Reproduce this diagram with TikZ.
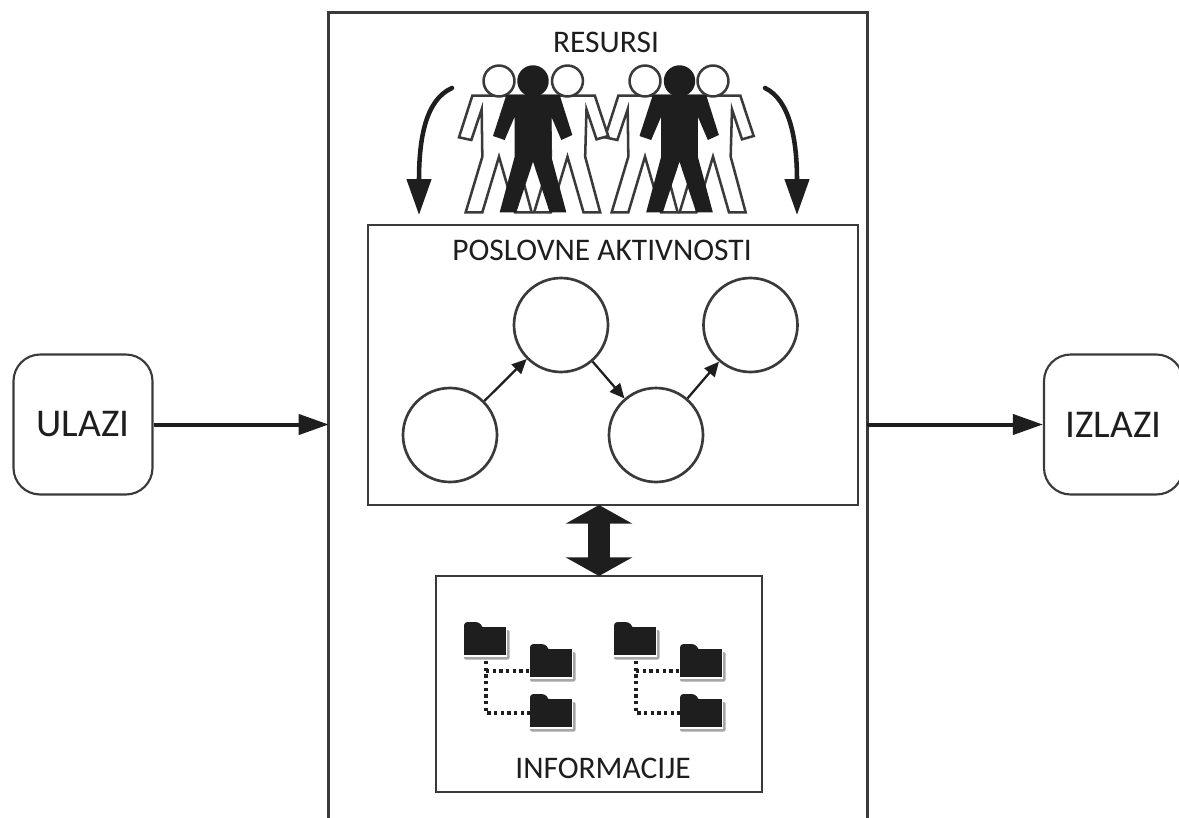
\documentclass[tikz,border=0pt]{standalone}
\usepackage{fontspec}
\setmainfont{Carlito}
\usetikzlibrary{arrows.meta,calc}
\definecolor{ink}{HTML}{1E1E1E}
\definecolor{edge}{HTML}{3A3A3A}
\newcommand{\personshape}{(-80,137) -- (-120,262) -- (-83,270) -- (-52,178) -- (-50,320) -- (-100,487) -- (-50,487) -- (0,320) -- (48,487) -- (98,487) -- (53,320) -- (57,178) -- (87,268) -- (122,258) -- (82,137) -- cycle}
\newcommand{\blackshape}{(-80,135) -- (-120,258) -- (-85,270) -- (-55,200) -- (-55,320) -- (-100,487) -- (-50,487) -- (0,335) -- (50,487) -- (100,487) -- (55,320) -- (55,200) -- (85,270) -- (118,255) -- (80,135) -- cycle}
\newcommand{\whiteperson}[1]{\begin{scope}[shift={(#1,50)},x=0.25pt,y=-0.25pt]
\draw[edge,line width=1.9pt,line join=miter,fill=white] \personshape;
\draw[edge,line width=1.9pt,fill=white] (0,93) circle (11.6pt);
\end{scope}}
\newcommand{\blackperson}[1]{\begin{scope}[shift={(#1,50)},x=0.25pt,y=-0.25pt]
\fill[ink] \blackshape;
\fill[ink] (0,93) circle (11.8pt);
\fill[ink] (-15,120) rectangle (15,140);
\end{scope}}
\newcommand{\folder}[3]{%
\fill[gray!70,rounded corners=1pt] (#2+0,#3+8) rectangle (#2+45.5,#3+37.5);
\fill[white] (#2+0,#3+5) rectangle (#2+43,#3+35);
\node[folderbody] (#1) at (#2+21,#3+19) {};
\fill[ink,rounded corners=2.5pt] (#2,#3+8) -- (#2,#3) -- (#2+15,#3) -- (#2+19,#3+5) -- (#2+19,#3+8) -- cycle;
}
\tikzset{
  x=0.75pt,y=-0.75pt,
  frame/.style n args={2}{draw=edge,line width=1.9pt,fill=white,minimum width={#1*0.75pt},minimum height={#2*0.75pt},inner sep=0pt},
  endbox/.style={draw=edge,line width=1.6pt,fill=white,rounded corners=20pt,minimum width={139*0.75pt},minimum height={140*0.75pt},inner sep=0pt,font=\fontsize{29.5}{34}\selectfont,text=ink},
  ghost/.style n args={2}{minimum width={#1*0.75pt},minimum height={#2*0.75pt},inner sep=0pt},
  act/.style={draw=edge,line width=2pt,fill=white,circle,minimum size={94*0.75pt},inner sep=0pt},
  lab/.style={font=\fontsize{23.6}{27}\selectfont,text=ink,inner sep=0pt},
  folderbody/.style={fill=ink,minimum width={42*0.75pt},minimum height={28*0.75pt},inner sep=0pt},
  flow/.style={ink,line width=3pt,-{Triangle[length=22.5pt,width=15pt]}},
  link/.style={ink,line width=1.7pt,-{Triangle[length=11pt,width=10pt]}},
  sweep/.style={ink,line width=3.4pt,-{Triangle[length=27pt,width=18pt]}},
  dotlink/.style={draw=ink,line width=2.8pt,dash pattern=on 2.6pt off 2.4pt},
}
\begin{document}
\begin{tikzpicture}
\useasboundingbox (0,0) rectangle (1179,818);
\node[ghost={538}{805}] (outer) at (598,415.5) {};
\draw[edge,line width=1.9pt] (outer.south west) -- (outer.north west) -- (outer.north east) -- (outer.south east);

\node[lab] (res) at (606,42) {RESURSI};
\foreach \c in {499,645}{\whiteperson{\c}}
\foreach \c in {567.5,713}{\whiteperson{\c}}
\foreach \c in {533,679.5}{\blackperson{\c}}

\node[frame={490}{280}] (actbox) at (613,365) {};
\node[lab] (acttitle) at (602,250) {POSLOVNE AKTIVNOSTI};
\node[act] (c1) at (450,435) {};
\node[act] (c2) at (561,325) {};
\node[act] (c3) at (656,435) {};
\node[act] (c4) at (750.5,325) {};
\draw[link] (c1) -- (c2);
\draw[link] (c2) -- (c3);
\draw[link] (c3) -- (c4);

\coordinate (sl) at (452,88);
\coordinate (tl) at (419,215);
\coordinate (sr) at (765,88);
\coordinate (tr) at (797,215);
\draw[sweep,line cap=round] (sl) .. controls (425,100) and (419,140) .. (tl);
\draw[sweep,line cap=round] (sr) .. controls (790,100) and (797,140) .. (tr);

\node[frame={326}{216}] (infobox) at (599,684) {};
\node[lab] (infotitle) at (603,768) {INFORMACIJE};
\coordinate (dtop) at (599,505);
\coordinate (dbot) at (599,576);
\draw[ink,line width=17pt,{Triangle[length=14pt,width=49.5pt]}-{Triangle[length=14pt,width=49.5pt]}] (dtop) -- (dbot);

\folder{fa}{464}{622}
\folder{fb}{530}{644}
\folder{fc}{530}{694}
\folder{fd}{614}{622}
\folder{fe}{680}{644}
\folder{ff}{680}{694}
\draw[dotlink] (486,661) |- (fc.west);
\draw[dotlink] (486,671) -- (fb.west |- 486,671);
\draw[dotlink] (636,661) |- (ff.west);
\draw[dotlink] (636,671) -- (fe.west |- 636,671);

\node[endbox] (ulazi) at (83,424.5) {ULAZI};
\node[endbox] (izlazi) at (1113.5,424.5) {IZLAZI};
\draw[flow] (ulazi.east) -- (ulazi.east -| outer.west);
\draw[flow] (izlazi.west -| outer.east) -- (izlazi.west);
\end{tikzpicture}
\end{document}
